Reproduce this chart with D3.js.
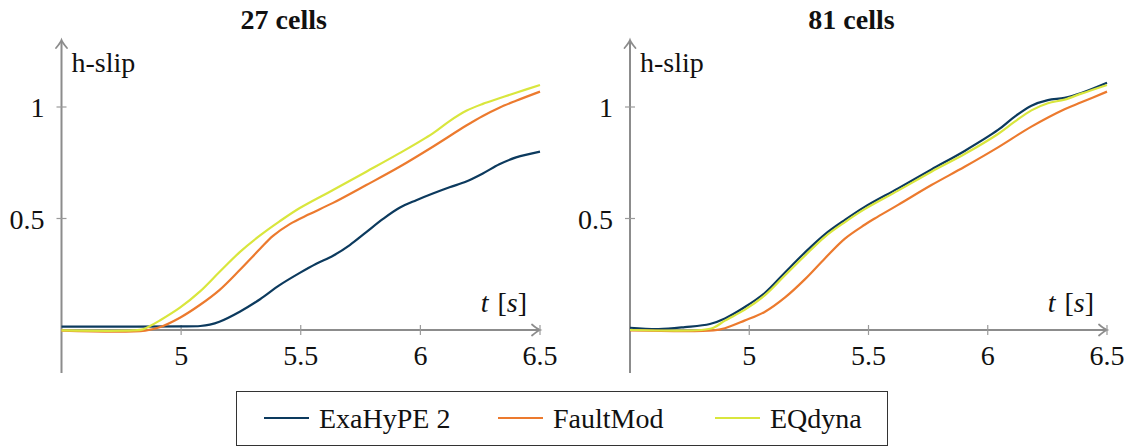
<!DOCTYPE html>
<html>
<head>
<meta charset="utf-8">
<script src="https://cdn.jsdelivr.net/npm/d3@7"></script>
<style>
  body { margin: 0; background: #fff; }
  svg { display: block; }
  text { font-family: "Liberation Serif", "Times New Roman", serif; fill: #111; }
</style>
</head>
<body>
<svg id="chart" width="1131" height="447"></svg>
<script>
// ---- data -------------------------------------------------------------
const timeTicks = [5, 5.5, 6, 6.5];
const slipTicks = [0.5, 1];
const panelTitles = ["27 cells", "81 cells"];
const seriesNames = ["ExaHyPE 2", "FaultMod", "EQdyna"];
const seriesColors = ["#0c3a5e", "#ec7a2e", "#d9e63d"];

// [time (s), horizontal slip]
const exahype27 = [[4.5,0.015],[4.8,0.015],[5.0,0.016],[5.08,0.018],[5.12,0.024],[5.16,0.037],[5.245,0.082],[5.33,0.138],[5.41,0.2],[5.496,0.256],[5.565,0.297],[5.635,0.333],[5.705,0.381],[5.774,0.439],[5.844,0.498],[5.913,0.548],[5.983,0.582],[6.052,0.612],[6.122,0.64],[6.192,0.666],[6.261,0.702],[6.33,0.743],[6.4,0.774],[6.5,0.8]];
const faultmod27 = [[4.5,-0.003],[4.85,-0.003],[4.91,0.012],[4.995,0.055],[5.078,0.112],[5.16,0.179],[5.245,0.269],[5.33,0.364],[5.384,0.422],[5.454,0.475],[5.537,0.52],[5.635,0.57],[5.774,0.65],[5.913,0.732],[6.052,0.822],[6.192,0.917],[6.261,0.96],[6.33,0.997],[6.4,1.028],[6.5,1.069]];
const eqdyna27 = [[4.5,-0.002],[4.8,-0.002],[4.84,0.003],[4.87,0.018],[4.91,0.042],[4.995,0.1],[5.078,0.172],[5.16,0.26],[5.245,0.349],[5.33,0.424],[5.41,0.486],[5.496,0.547],[5.635,0.628],[5.774,0.71],[5.913,0.793],[6.052,0.882],[6.122,0.937],[6.192,0.983],[6.261,1.014],[6.33,1.039],[6.4,1.064],[6.5,1.099]];

const exahype81 = [[4.5,0.01],[4.62,0.004],[4.73,0.013],[4.835,0.027],[4.898,0.052],[4.98,0.102],[5.066,0.167],[5.149,0.257],[5.233,0.347],[5.317,0.429],[5.4,0.493],[5.484,0.552],[5.624,0.635],[5.764,0.72],[5.903,0.803],[6.043,0.897],[6.113,0.957],[6.183,1.006],[6.252,1.031],[6.322,1.041],[6.392,1.063],[6.5,1.109]];
const faultmod81 = [[4.5,-0.002],[4.85,-0.002],[4.898,0.008],[4.98,0.042],[5.066,0.082],[5.149,0.145],[5.233,0.227],[5.317,0.321],[5.4,0.409],[5.484,0.472],[5.526,0.5],[5.624,0.561],[5.764,0.65],[5.903,0.732],[6.043,0.819],[6.183,0.912],[6.322,0.99],[6.392,1.021],[6.5,1.069]];
const eqdyna81 = [[4.5,0.0],[4.8,0.0],[4.85,0.01],[4.898,0.042],[4.98,0.09],[5.066,0.156],[5.149,0.244],[5.233,0.333],[5.317,0.418],[5.4,0.483],[5.484,0.542],[5.624,0.625],[5.764,0.71],[5.903,0.789],[6.043,0.879],[6.113,0.934],[6.183,0.985],[6.252,1.017],[6.322,1.033],[6.392,1.06],[6.5,1.099]];

// ---- layout -----------------------------------------------------------
const svg = d3.select("#chart");
const axisColor = "#8c8c8c";
const fontSize = 28;

const panels = [
  { title: panelTitles[0], series: [exahype27, faultmod27, eqdyna27], x0: 61.5, x1: 540 },
  { title: panelTitles[1], series: [exahype81, faultmod81, eqdyna81], x0: 630, x1: 1107 }
];

const y = d3.scaleLinear().domain([0, 1]).range([330, 107]);
const yBottom = 373, yTop = 40;

// open LaTeX-style arrow tip pointing along +x, drawn at the origin
function arrowTip(g, x, yy, angle) {
  g.append("path")
    .attr("d", "M-8,-5.5 Q-3,-1.2 0,0 Q-3,1.2 -8,5.5")
    .attr("transform", `translate(${x},${yy}) rotate(${angle})`)
    .attr("fill", "none")
    .attr("stroke", axisColor)
    .attr("stroke-width", 1.8)
    .attr("stroke-linecap", "round");
}

panels.forEach(p => {
  const x = d3.scaleLinear().domain([4.5, 6.5]).range([p.x0, p.x1]);
  const g = svg.append("g");
  const ax = x(4.5), ay = y(0);

  // title
  g.append("text")
    .attr("x", (x(4.5) + x(6.5)) / 2 - 17)
    .attr("y", 29)
    .attr("text-anchor", "middle")
    .attr("font-weight", "bold")
    .attr("font-size", fontSize)
    .text(p.title);

  // axis lines with arrow tips
  g.append("line").attr("x1", ax).attr("x2", ax).attr("y1", yBottom).attr("y2", yTop + 1)
    .attr("stroke", axisColor).attr("stroke-width", 2);
  arrowTip(g, ax, yTop, -90);
  g.append("line").attr("x1", ax).attr("x2", x(6.5) - 1).attr("y1", ay).attr("y2", ay)
    .attr("stroke", axisColor).attr("stroke-width", 2);
  arrowTip(g, x(6.5), ay, 0);

  // x ticks and labels
  timeTicks.forEach(t => {
    g.append("line").attr("x1", x(t)).attr("x2", x(t)).attr("y1", ay - 5).attr("y2", ay + 5)
      .attr("stroke", "#9a9a9a").attr("stroke-width", 1.2);
    g.append("text").attr("x", x(t)).attr("y", 365).attr("text-anchor", "middle")
      .attr("font-size", fontSize).text(d3.format("")(t));
  });

  // y ticks and labels
  slipTicks.forEach(v => {
    g.append("line").attr("x1", ax - 5).attr("x2", ax + 5).attr("y1", y(v)).attr("y2", y(v))
      .attr("stroke", "#9a9a9a").attr("stroke-width", 1.2);
    g.append("text").attr("x", ax - 17).attr("y", y(v) + 10).attr("text-anchor", "end")
      .attr("font-size", fontSize).text(d3.format("")(v));
  });

  // axis labels
  g.append("text").attr("x", ax + 10).attr("y", 72).attr("font-size", fontSize).text("h-slip");
  const xl = g.append("text").attr("x", x(6.5) - 13).attr("y", 312)
    .attr("text-anchor", "end").attr("font-size", fontSize);
  xl.append("tspan").attr("font-style", "italic").text("t");
  xl.append("tspan").attr("dx", 9).text("[");
  xl.append("tspan").attr("font-style", "italic").text("s");
  xl.append("tspan").text("]");

  // curves
  const line = d3.line().x(d => x(d[0])).y(d => y(d[1])).curve(d3.curveCatmullRom.alpha(0.5));
  p.series.forEach((s, i) => {
    g.append("path").datum(s).attr("d", line)
      .attr("fill", "none").attr("stroke", seriesColors[i])
      .attr("stroke-width", 2.2).attr("stroke-linejoin", "round");
  });
});

// ---- legend -----------------------------------------------------------
const legend = svg.append("g");
legend.append("rect").attr("x", 236.5).attr("y", 391.5).attr("width", 651).attr("height", 54)
  .attr("fill", "#fff").attr("stroke", "#333").attr("stroke-width", 1);
const legendX = [264, 498, 715];
seriesNames.forEach((name, i) => {
  legend.append("line").attr("x1", legendX[i]).attr("x2", legendX[i] + 45)
    .attr("y1", 418).attr("y2", 418)
    .attr("stroke", seriesColors[i]).attr("stroke-width", 2.2);
  legend.append("text").attr("x", legendX[i] + 55).attr("y", 428)
    .attr("font-size", fontSize).text(name);
});
</script>
</body>
</html>
